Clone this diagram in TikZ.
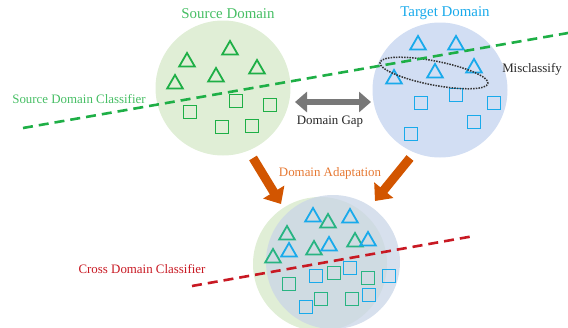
\documentclass[tikz,border=0pt]{standalone}
\usepackage{fontspec}
\setmainfont{Liberation Serif}
\usetikzlibrary{shapes.geometric,arrows.meta}
\definecolor{srcfill}{RGB}{224,238,214}
\definecolor{tgtfill}{RGB}{210,222,243}
\definecolor{srcg}{RGB}{30,175,70}
\definecolor{srct}{RGB}{70,190,100}
\definecolor{tgtb}{RGB}{25,170,235}
\definecolor{mixg}{RGB}{40,180,130}
\definecolor{orarrow}{RGB}{210,85,0}
\definecolor{ortext}{RGB}{230,120,50}
\definecolor{redc}{RGB}{200,25,35}
\definecolor{gapgray}{RGB}{120,120,120}
\tikzset{
  tri/.style={regular polygon,regular polygon sides=3,minimum size=18pt,inner sep=0pt,line width=1.8pt,draw=#1},
  sq/.style={rectangle,minimum size=13pt,inner sep=0pt,line width=1.8pt,draw=#1},
  lbl/.style={font=\fontsize{12.9}{14}\selectfont,inner sep=0pt},
  ttl/.style={font=\fontsize{14.9}{16}\selectfont,inner sep=0pt},
  clsline/.style={line width=2.6pt,dash pattern=on 10pt off 6pt,draw=#1},
  bigarrow/.style={line width=9pt,draw=orarrow,-{Triangle[length=14pt,width=24pt]}},
}
\begin{document}
\begin{tikzpicture}[x=1pt,y=-1pt]
\useasboundingbox (0,0) rectangle (568,327);
% domain circles
\node[circle,fill=srcfill,minimum size=135pt,inner sep=0pt] (src) at (223,88) {};
\node[circle,fill=tgtfill,minimum size=135pt,inner sep=0pt] (tgt) at (440,90) {};
\node[circle,fill=srcfill,minimum size=134pt,inner sep=0pt] (mixs) at (320,264) {};
\node[circle,fill=tgtfill!90!gray,fill opacity=0.75,minimum size=134pt,inner sep=0pt] (mixt) at (333,262) {};
% titles
\node[ttl,text=srct] (srcttl) at (228,14) {Source Domain};
\node[ttl,text=tgtb] (tgtttl) at (445,13) {Target Domain};
% source shapes
\foreach \x/\y [count=\i] in {230/50,187/62,257/69,216/77,175/84}
  \node[tri=srcg] (st\i) at (\x,\y) {};
\foreach \x/\y [count=\i] in {236/101,270/105,190/112,222/127,252/126}
  \node[sq=srcg] (ss\i) at (\x,\y) {};
% target shapes
\foreach \x/\y [count=\i] in {418/45,456/45,435/73,474/68,394/79}
  \node[tri=tgtb] (tt\i) at (\x,\y) {};
\foreach \x/\y [count=\i] in {456/95,421/103,494/103,474/122,411/134}
  \node[sq=tgtb] (ts\i) at (\x,\y) {};
% misclassify ellipse
\node[ellipse,draw=black!80,line width=1.5pt,dash pattern=on 1.5pt off 1.2pt,minimum width=110pt,minimum height=24pt,inner sep=0pt,rotate=-11] (mis) at (434,73) {};
\node[lbl,text=black!85] (mislbl) at (532,69) {Misclassify};
% source classifier
\coordinate (sc1) at (23,128);
\coordinate (sc2) at (568,33);
\draw[clsline=srcg] (sc1) -- (sc2);
\node[lbl,text=srct] (sclbl) at (79,99) {Source Domain Classifier};
% domain gap
\coordinate (g1) at (295,102);
\coordinate (g2) at (371,102);
\draw[line width=6pt,draw=gapgray,{Triangle[length=12pt,width=20pt]}-{Triangle[length=12pt,width=20pt]}] (g1) -- (g2);
\node[lbl,text=black!85] (gaplbl) at (330,122) {Domain Gap};
% adaptation arrows
\coordinate (a1) at (253,158);
\coordinate (a2) at (281,204);
\coordinate (b1) at (410,158);
\coordinate (b2) at (375,201);
\draw[bigarrow] (a1) -- (a2);
\draw[bigarrow] (b1) -- (b2);
\node[lbl,text=ortext] (adlbl) at (330,173) {Domain Adaptation};
% mixed shapes
\foreach \x/\y [count=\i] in {287/235,328/223,314/250,355/242,273/258}
  \node[tri=mixg] (mt\i) at (\x,\y) {};
\foreach \x/\y [count=\i] in {313/217,350/218,289/252,329/246,368/241}
  \node[tri=tgtb] (mb\i) at (\x,\y) {};
\foreach \x/\y [count=\i] in {334/273,289/284,368/278,321/299,352/299}
  \node[sq=mixg] (ms\i) at (\x,\y) {};
\foreach \x/\y [count=\i] in {316/276,350/268,389/276,369/295,306/307}
  \node[sq=tgtb] (mq\i) at (\x,\y) {};
% cross classifier
\coordinate (c1) at (192,286);
\coordinate (c2) at (474,236);
\draw[clsline=redc] (c1) -- (c2);
\node[lbl,text=redc] (cclbl) at (142,269) {Cross Domain Classifier};
\end{tikzpicture}
\end{document}
